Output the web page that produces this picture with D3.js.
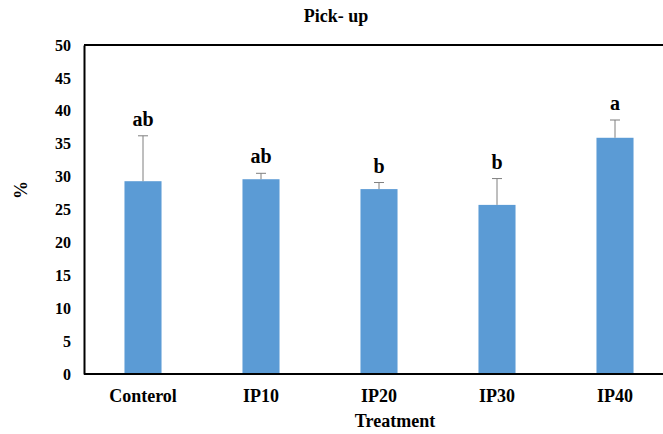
<!DOCTYPE html>
<html>
  <head>
    <script src="https://d3js.org/d3.v7.min.js"></script>
    <style>
      body { margin: 0; background: #fff; }
      text { font-family: "Liberation Serif", "Times New Roman", serif; font-weight: bold; }
    </style>
  </head>
  <body>
    <svg id="plot" width="663" height="434"></svg>
    <script>
      const treatments = ["Conterol", "IP10", "IP20", "IP30", "IP40"];
      const means = [29.3, 29.6, 28.1, 25.7, 35.9];
      const errors = [6.9, 0.9, 1.0, 4.0, 2.7];
      const letters = ["ab", "ab", "b", "b", "a"];
      const yTicks = [0, 5, 10, 15, 20, 25, 30, 35, 40, 45, 50];

      const svg = d3.select("#plot");
      const margin = { top: 45, left: 84, bottom: 60 };

      const x = d3.scaleBand()
        .domain(treatments)
        .range([margin.left, margin.left + 5 * 118])
        .paddingInner(0.686)
        .paddingOuter(0.343);

      const y = d3.scaleLinear()
        .domain([0, 50])
        .range([374, 45]);

      // title
      svg.append("text")
        .attr("x", 336).attr("y", 22)
        .attr("text-anchor", "middle")
        .style("font-size", "18px")
        .text("Pick- up");

      // bars
      svg.selectAll("rect.bar")
        .data(means)
        .enter().append("rect")
        .attr("class", "bar")
        .attr("x", (d, i) => x(treatments[i]))
        .attr("width", x.bandwidth())
        .attr("y", d => y(d))
        .attr("height", d => y(0) - y(d))
        .attr("fill", "#5b9bd5");

      // error bars (upper only)
      const eb = svg.append("g").attr("stroke", "#7f7f7f").attr("stroke-width", 1);
      means.forEach(function(m, i) {
        const cx = x(treatments[i]) + x.bandwidth() / 2;
        eb.append("line")
          .attr("x1", cx).attr("x2", cx)
          .attr("y1", y(m)).attr("y2", y(m + errors[i]));
        eb.append("line")
          .attr("x1", cx - 5).attr("x2", cx + 5)
          .attr("y1", y(m + errors[i])).attr("y2", y(m + errors[i]));
      });

      // significance letters
      svg.selectAll("text.sig")
        .data(letters)
        .enter().append("text")
        .attr("class", "sig")
        .attr("x", (d, i) => x(treatments[i]) + x.bandwidth() / 2)
        .attr("y", (d, i) => y(means[i] + errors[i]) - 10)
        .attr("text-anchor", "middle")
        .style("font-size", "20px")
        .text(d => d);

      // y axis
      const yAxis = svg.append("g")
        .attr("transform", "translate(" + margin.left + ",0)")
        .call(d3.axisLeft(y).tickValues(yTicks).tickSize(0).tickPadding(13));
      yAxis.select(".domain").attr("stroke", "#000").attr("stroke-width", 2);
      yAxis.selectAll("text")
        .style("font-size", "16px")
        .style("font-family", "'Liberation Serif', serif")
        .style("font-weight", "bold")
        .attr("fill", "#000");

      // top frame line
      svg.append("line")
        .attr("x1", margin.left).attr("x2", 663)
        .attr("y1", y(50)).attr("y2", y(50))
        .attr("stroke", "#000").attr("stroke-width", 2);

      // x axis
      const xAxis = svg.append("g")
        .attr("transform", "translate(0," + y(0) + ")")
        .call(d3.axisBottom(x).tickSize(0).tickPadding(15));
      xAxis.select(".domain").remove();
      xAxis.append("line")
        .attr("x1", margin.left).attr("x2", 663)
        .attr("stroke", "#000").attr("stroke-width", 2);
      xAxis.selectAll("text")
        .style("font-size", "18px")
        .style("font-family", "'Liberation Serif', serif")
        .style("font-weight", "bold")
        .attr("fill", "#000");

      // axis titles
      svg.append("text")
        .attr("x", 395).attr("y", 427)
        .attr("text-anchor", "middle")
        .style("font-size", "18px")
        .text("Treatment");

      svg.append("text")
        .attr("transform", "translate(27,190) rotate(-90)")
        .attr("text-anchor", "middle")
        .style("font-size", "18px")
        .text("%");
    </script>
  </body>
</html>
